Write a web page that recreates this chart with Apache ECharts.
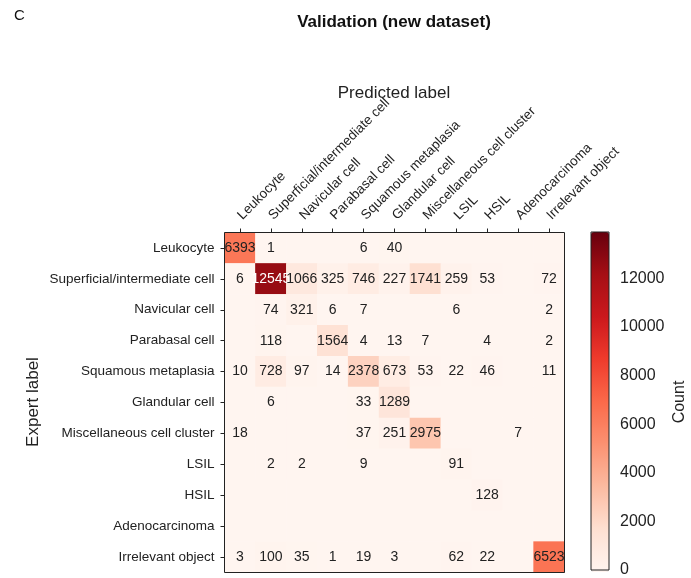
<!DOCTYPE html>
<html>
<head>
<meta charset="utf-8">
<script src="https://cdn.jsdelivr.net/npm/echarts@6/dist/echarts.min.js"></script>
<style>
html, body { margin: 0; padding: 0; background: #fff; }
#chart { width: 691px; height: 578px; }
</style>
</head>
<body>
<div id="chart"></div>
<script>
// class names (same order for predicted and expert)
const labels = ["Leukocyte", "Superficial/intermediate cell", "Navicular cell", "Parabasal cell",
  "Squamous metaplasia", "Glandular cell", "Miscellaneous cell cluster", "LSIL", "HSIL",
  "Adenocarcinoma", "Irrelevant object"];

// rows = expert label, columns = predicted label
const rowLeukocyte   = [6393, 1, 0, 0, 6, 40, 0, 0, 0, 0, 0];
const rowSuperficial = [6, 12545, 1066, 325, 746, 227, 1741, 259, 53, 0, 72];
const rowNavicular   = [0, 74, 321, 6, 7, 0, 0, 6, 0, 0, 2];
const rowParabasal   = [0, 118, 0, 1564, 4, 13, 7, 0, 4, 0, 2];
const rowSquamous    = [10, 728, 97, 14, 2378, 673, 53, 22, 46, 0, 11];
const rowGlandular   = [0, 6, 0, 0, 33, 1289, 0, 0, 0, 0, 0];
const rowMisc        = [18, 0, 0, 0, 37, 251, 2975, 0, 0, 7, 0];
const rowLSIL        = [0, 2, 2, 0, 9, 0, 0, 91, 0, 0, 0];
const rowHSIL        = [0, 0, 0, 0, 0, 0, 0, 0, 128, 0, 0];
const rowAdeno       = [0, 0, 0, 0, 0, 0, 0, 0, 0, 0, 0];
const rowIrrelevant  = [3, 100, 35, 1, 19, 3, 0, 62, 22, 0, 6523];

const matrix = [rowLeukocyte, rowSuperficial, rowNavicular, rowParabasal, rowSquamous,
  rowGlandular, rowMisc, rowLSIL, rowHSIL, rowAdeno, rowIrrelevant];

const colorbarTicks = [0, 2000, 4000, 6000, 8000, 10000, 12000];
const colorMax = 13900;

const data = [];
matrix.forEach((row, r) => row.forEach((v, c) => data.push([c, r, v])));

const font = "'Liberation Sans', Arial, sans-serif";
const reds = ["#fff5f0", "#fee0d2", "#fcbba1", "#fc9272", "#fb6a4a", "#ef3b2c", "#cb181d", "#a50f15", "#67000d"];

const chart = echarts.init(document.getElementById("chart"));
chart.setOption({
  animation: false,
  textStyle: { fontFamily: font },
  grid: [
    { left: 224.5, top: 232.5, width: 340, height: 340, show: true, borderColor: "#222", borderWidth: 1, backgroundColor: "transparent", z: 10 },
    { left: 591, top: 232, width: 18, height: 340, show: true, borderColor: "#222", borderWidth: 1, backgroundColor: "transparent", z: 10 }
  ],
  xAxis: [
    {
      type: "category", data: labels, position: "top", gridIndex: 0,
      axisLine: { show: false },
      axisTick: { show: true, alignWithLabel: true, length: 4, lineStyle: { color: "#222" } },
      axisLabel: { rotate: -45, interval: 0, margin: 15, fontSize: 13.5, color: "#222", fontFamily: font },
      splitLine: { show: false }
    },
    { type: "value", gridIndex: 1, show: false, min: 0, max: 1 }
  ],
  yAxis: [
    {
      type: "category", data: labels, inverse: true, gridIndex: 0,
      axisLine: { show: false },
      axisTick: { show: true, alignWithLabel: true, length: 4, lineStyle: { color: "#222" } },
      axisLabel: { interval: 0, margin: 10, fontSize: 13.5, color: "#222", fontFamily: font },
      splitLine: { show: false }
    },
    {
      type: "value", gridIndex: 1, position: "right", min: 0, max: colorMax, interval: 2000,
      axisLine: { show: false },
      axisTick: { show: true, length: 4, lineStyle: { color: "#222" },
        customValues: colorbarTicks },
      axisLabel: { margin: 11, fontSize: 16, color: "#222", fontFamily: font,
        customValues: colorbarTicks, formatter: v => String(v) },
      splitLine: { show: false }
    }
  ],
  visualMap: {
    type: "continuous", min: 0, max: colorMax, seriesIndex: 0,
    calculable: false, show: true, left: 591, top: 232, itemWidth: 18, itemHeight: 340,
    padding: 0, text: ["", ""], showLabel: false,
    inRange: { color: reds }
  },
  series: [{
    type: "heatmap", xAxisIndex: 0, yAxisIndex: 0, data: data,
    label: {
      show: true, fontSize: 14, fontFamily: font,
      formatter: p => {
        const v = p.value[2];
        if (!v) return "";
        return (v > 7000 ? "{w|" : "{d|") + v + "}";
      },
      rich: {
        w: { color: "#fff", fontSize: 14, fontFamily: font },
        d: { color: "#222", fontSize: 14, fontFamily: font }
      }
    },
    emphasis: { disabled: true }
  }],
  graphic: [
    { type: "text", left: 14, top: 8, style: { text: "C", font: "15px " + font, fill: "#111" } },
    { type: "text", x: 394, y: 22, style: { text: "Validation (new dataset)", font: "bold 17px " + font, fill: "#111", align: "center", verticalAlign: "middle" } },
    { type: "text", x: 394, y: 93, style: { text: "Predicted label", font: "17px " + font, fill: "#222", align: "center", verticalAlign: "middle" } },
    { type: "text", x: 33, y: 402, rotation: Math.PI / 2, style: { text: "Expert label", font: "17px " + font, fill: "#222", align: "center", verticalAlign: "middle" } },
    { type: "text", x: 680, y: 402, rotation: Math.PI / 2, style: { text: "Count", font: "16px " + font, fill: "#222", align: "center", verticalAlign: "middle" } }
  ]
});
</script>
</body>
</html>
